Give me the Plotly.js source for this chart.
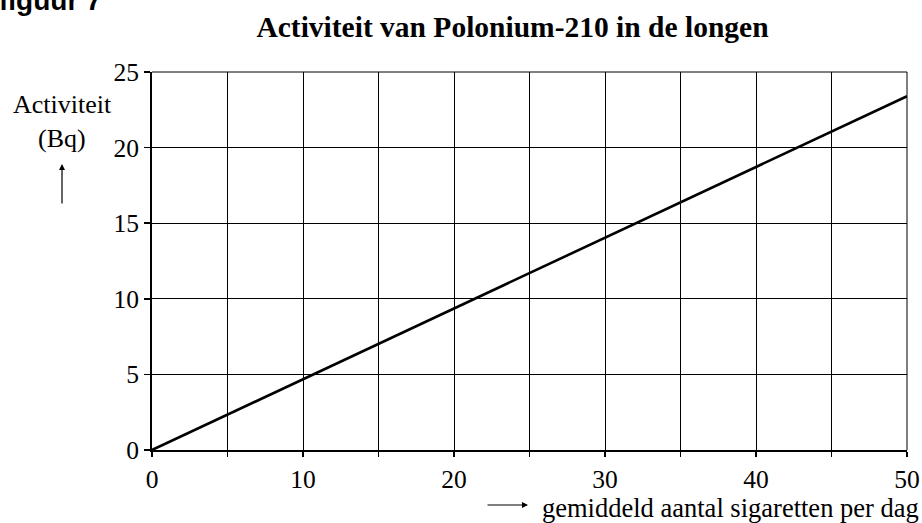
<!DOCTYPE html>
<html>
<head>
<meta charset="utf-8">
<script src="https://cdn.plot.ly/plotly-3.0.1.min.js"></script>
<style>html,body{margin:0;padding:0;background:#fff;}#chart{width:922px;height:523px;}</style>
</head>
<body>
<div id="chart"></div>
<script>
// Data
const cigarettesPerDay = [0, 50];
const activityBq = [0, 23.4];
const xTickVals = [0, 5, 10, 15, 20, 25, 30, 35, 40, 45, 50];
const xTickText = ['0', '', '10', '', '20', '', '30', '', '40', '', '50'];
const yTickVals = [0, 5, 10, 15, 20, 25];
const titleText = "Activiteit van Polonium-210 in de longen";
const yLabelLine1 = "Activiteit";
const yLabelLine2 = "(Bq)";
const xLabelText = "gemiddeld aantal sigaretten per dag";
const figureLabel = "figuur 7";

const W = 922, H = 523;
const M = {l: 152, r: 15, t: 72, b: 73};
const PW = W - M.l - M.r, PH = H - M.t - M.b;
const px = x => (x - M.l) / PW;
const py = y => (H - M.b - y) / PH;
const serif = "Liberation Serif, Times New Roman, serif";

const trace = {
  x: cigarettesPerDay, y: activityBq, type: 'scatter', mode: 'lines',
  line: {color: '#000', width: 2.6}, hoverinfo: 'skip', cliponaxis: false
};

const layout = {
  width: W, height: H,
  margin: M,
  paper_bgcolor: '#fff', plot_bgcolor: '#fff',
  showlegend: false,
  font: {family: serif, color: '#000', size: 25},
  title: {
    text: '<b>' + titleText + '</b>',
    font: {family: serif, size: 29.5, color: '#000'},
    xref: 'container', x: 512.5 / W, xanchor: 'center',
    yref: 'container', y: 1 - 27 / H, yanchor: 'middle'
  },
  xaxis: {
    range: [0, 50], tickvals: xTickVals, ticktext: xTickText,
    showgrid: true, gridcolor: '#000', gridwidth: 1,
    showline: true, linecolor: '#000', linewidth: 2,
    ticks: 'outside', ticklen: 5, tickwidth: 1.5, tickcolor: '#000',
    zeroline: false, fixedrange: true,
    tickfont: {family: serif, size: 25.5, color: '#000'}
  },
  yaxis: {
    range: [0, 25], tickvals: yTickVals,
    showgrid: true, gridcolor: '#000', gridwidth: 1,
    showline: true, linecolor: '#000', linewidth: 2,
    ticks: 'outside', ticklen: 6, tickwidth: 1.5, tickcolor: '#000',
    zeroline: false, fixedrange: true,
    tickfont: {family: serif, size: 25.5, color: '#000'}
  },
  shapes: [
    {type: 'line', xref: 'paper', yref: 'paper', x0: 0, x1: 1, y0: 1, y1: 1, line: {color: '#000', width: 1}},
    {type: 'line', xref: 'paper', yref: 'paper', x0: 1, x1: 1, y0: 0, y1: 1, line: {color: '#000', width: 1}}
  ],
  annotations: [
    {text: '<b>' + figureLabel + '</b>', xref: 'paper', yref: 'paper', x: px(-3), y: py(18),
     xanchor: 'left', yanchor: 'bottom', showarrow: false,
     font: {family: 'Liberation Sans, Arial, sans-serif', size: 28, color: '#000'}},
    {text: yLabelLine1, xref: 'paper', yref: 'paper', x: px(62), y: py(104),
     xanchor: 'center', yanchor: 'middle', showarrow: false, font: {family: serif, size: 26, color: '#000'}},
    {text: yLabelLine2, xref: 'paper', yref: 'paper', x: px(62), y: py(138),
     xanchor: 'center', yanchor: 'middle', showarrow: false, font: {family: serif, size: 26, color: '#000'}},
    {text: '', xref: 'paper', yref: 'paper', x: px(62), y: py(164), ax: 0, ay: 41,
     showarrow: true, arrowhead: 2, arrowsize: 1, arrowwidth: 1.2, arrowcolor: '#000', standoff: 0},
    {text: '', xref: 'paper', yref: 'paper', x: px(528), y: py(505), ax: -42, ay: 0,
     showarrow: true, arrowhead: 2, arrowsize: 1, arrowwidth: 1.2, arrowcolor: '#000', standoff: 0},
    {text: xLabelText, xref: 'paper', yref: 'paper', x: px(540), y: py(508),
     xanchor: 'left', yanchor: 'middle', showarrow: false, font: {family: serif, size: 26.5, color: '#000'}}
  ]
};

Plotly.newPlot('chart', [trace], layout, {staticPlot: true, displayModeBar: false});
</script>
</body>
</html>
